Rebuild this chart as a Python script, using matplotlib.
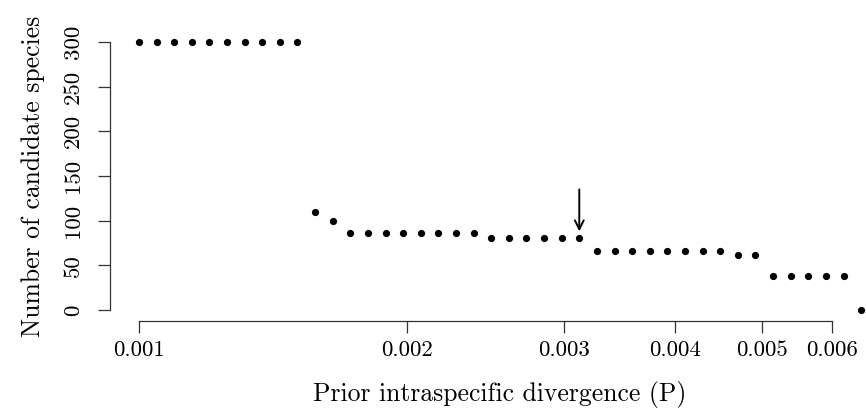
import matplotlib
matplotlib.use("Agg")
import matplotlib.pyplot as plt

# prior intraspecific divergence values
p_values = [0.0010000, 0.0010466, 0.0010953, 0.0011463, 0.0011997, 0.0012556,
            0.0013140, 0.0013752, 0.0014393, 0.0015063, 0.0015764, 0.0016498,
            0.0017266, 0.0018070, 0.0018912, 0.0019792, 0.0020714, 0.0021678,
            0.0022688, 0.0023744, 0.0024850, 0.0026007, 0.0027218, 0.0028485,
            0.0029812, 0.0031200, 0.0032653, 0.0034173, 0.0035764, 0.0037430,
            0.0039173, 0.0040997, 0.0042906, 0.0044904, 0.0046995, 0.0049183,
            0.0051473, 0.0053870, 0.0056378, 0.0059004, 0.0061751, 0.0064622]

n_species = [300, 300, 300, 300, 300, 300, 300, 300, 300, 300,
             110, 100,
             86, 86, 86, 86, 86, 86, 86, 86,
             81, 81, 81, 81, 81, 81,
             66, 66, 66, 66, 66, 66, 66, 66,
             62, 62,
             38, 38, 38, 38, 38,
             0]

x_ticks = [0.001, 0.002, 0.003, 0.004, 0.005, 0.006]
x_tick_labels = ["0.001", "0.002", "0.003", "0.004", "0.005", "0.006"]
y_ticks = [0, 50, 100, 150, 200, 250, 300]

chosen = 25  # index of the highlighted partition

plt.rcParams['font.family'] = 'cmr10'
plt.rcParams['axes.formatter.use_mathtext'] = True

fig = plt.figure(figsize=(8.66, 4.13), dpi=100)
ax = fig.add_axes([110/866, 92.3/413, 780/866, 289.4/413])

ax.plot(p_values, n_species, 'o', color='black', markersize=5.2, markeredgewidth=0)

ax.annotate('', xy=(p_values[chosen], 88), xytext=(p_values[chosen], 135),
            arrowprops=dict(arrowstyle='->', lw=1.4, color='black',
                            mutation_scale=16, shrinkA=0, shrinkB=0))

ax.set_xscale('log')
ax.set_xlim(10**-3.0324, 10**-2.1572)
ax.set_ylim(-12, 312)

ax.set_xticks(x_ticks)
ax.set_xticklabels(x_tick_labels)
ax.xaxis.set_minor_locator(matplotlib.ticker.NullLocator())
ax.set_yticks(y_ticks)
ax.set_yticklabels([str(v) for v in y_ticks], rotation=90, va='center')

for s in ['top', 'right']:
    ax.spines[s].set_visible(False)
ax.spines['left'].set_bounds(0, 300)
ax.spines['bottom'].set_bounds(0.001, 0.006)
for s in ['left', 'bottom']:
    ax.spines[s].set_linewidth(0.9)
    ax.spines[s].set_color('#333333')

ax.tick_params(axis='both', length=8.6, width=0.9, color='#333333', labelsize=16.5)
ax.tick_params(axis='x', pad=6)
ax.tick_params(axis='y', pad=11)

ax.set_xlabel('Prior intraspecific divergence (P)', fontsize=18.5, labelpad=15)
ax.set_ylabel('Number of candidate species', fontsize=18.5, labelpad=13)

fig.savefig('out.png', dpi=100)
